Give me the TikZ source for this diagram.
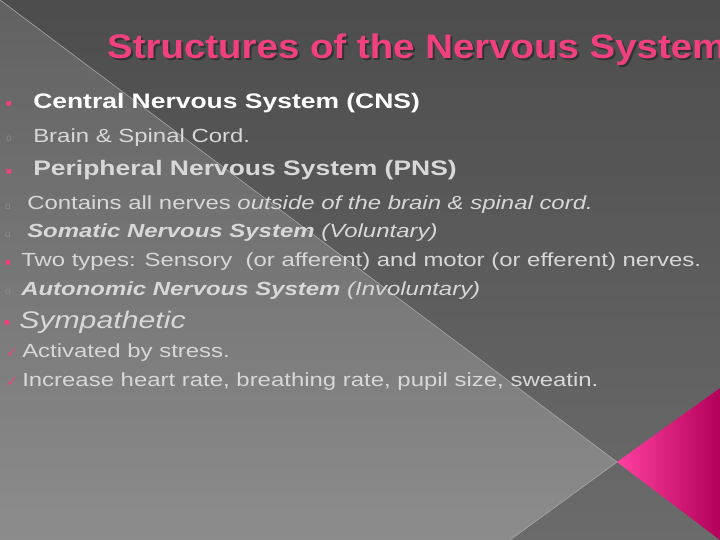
\documentclass[tikz,border=0pt]{standalone}
\usepackage{fontspec}
\setmainfont{Liberation Sans}
\newfontfamily\djv{DejaVu Sans}
\definecolor{pk}{HTML}{F0407F}
\definecolor{mg}{HTML}{FF0080}
\definecolor{tx}{HTML}{D8D8D8}
\begin{document}
\begin{tikzpicture}[x=1pt,y=-1pt,
  ln/.style={anchor=west,inner sep=0pt,text=tx,xscale=1.26,font=\fontsize{19}{19}\selectfont},
  big/.style={anchor=west,inner sep=0pt,xscale=1.26,font=\bfseries\fontsize{21}{21}\selectfont},
  bul/.style={anchor=center,inner sep=0pt,text=pk}]
\useasboundingbox (0,0) rectangle (720,540);
\shade[top color=black!70,bottom color=black!58] (0,0) rectangle (720,540);
\coordinate (ap) at (617,462);
\shade[top color=black!62,bottom color=black!45] (0,0) -- (ap) -- (510,540) -- (0,540) -- cycle;
\draw[black!35,line width=0.6pt] (0,0) -- (ap) -- (510,540);
\shade[left color=mg!75!white,right color=mg!70!black] (ap) -- (720,388) -- (720,540) -- cycle;
\begin{scope}
\clip (0,0) rectangle (720,540);
\node[anchor=west,inner sep=0pt,xscale=1.13,text=black!80,font=\bfseries\fontsize{34}{34}\selectfont] at (109,52) {Structures of the Nervous System};
\node[anchor=west,inner sep=0pt,xscale=1.13,text=pk,font=\bfseries\fontsize{34}{34}\selectfont] (t) at (107,50) {Structures of the Nervous System};
\end{scope}
\node[bul,font=\djv\fontsize{6}{6}\selectfont] (b1) at (9,104) {■};
\node[big,text=white] (l1) at (33,103) {Central Nervous System (CNS)};
\node[bul,font=\fontsize{10}{10}\selectfont,text=black!45] (b2) at (9,139) {o};
\node[ln] (l2) at (33,138) {Brain \& Spinal Cord.};
\node[bul,font=\djv\fontsize{6}{6}\selectfont] (b3) at (9,172) {■};
\node[big,text=tx] (l3) at (33,170) {Peripheral Nervous System (PNS)};
\node[bul,font=\fontsize{10}{10}\selectfont,text=black!45] at (8,207) {o};
\node[ln] (l4) at (27,205) {Contains all nerves \textit{outside of the brain \& spinal cord.}};
\node[bul,font=\fontsize{10}{10}\selectfont,text=black!45] at (8,235) {o};
\node[ln] (l5) at (27,233) {\textbf{\textit{Somatic Nervous System}} \textit{(Voluntary)}};
\node[bul,font=\djv\fontsize{6}{6}\selectfont] at (8,263) {■};
\node[ln] (l6) at (21,262) {Two types: Sensory\ \ (or afferent) and motor (or efferent) nerves.};
\node[bul,font=\fontsize{10}{10}\selectfont,text=black!45] at (8,292) {o};
\node[ln] (l7) at (21,291) {\textbf{\textit{Autonomic Nervous System}} \textit{(Involuntary)}};
\node[bul,font=\djv\fontsize{6}{6}\selectfont] at (7,323) {■};
\node[ln,font=\itshape\fontsize{24}{24}\selectfont] (l8) at (19,322) {Sympathetic};
\node[bul,font=\djv\fontsize{14}{14}\selectfont] at (12,353) {✓};
\node[ln] (l9) at (22,353) {Activated by stress.};
\node[bul,font=\djv\fontsize{14}{14}\selectfont] at (12,382) {✓};
\node[ln] (l10) at (22,382) {Increase heart rate, breathing rate, pupil size, sweatin.};
\end{tikzpicture}
\end{document}
